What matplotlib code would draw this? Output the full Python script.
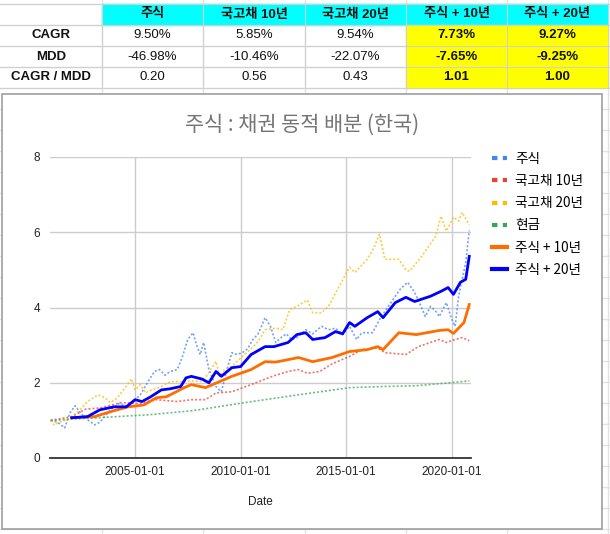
import matplotlib
matplotlib.use('Agg')
import matplotlib.pyplot as plt
import matplotlib.dates as mdates
from matplotlib.lines import Line2D
from matplotlib.patches import Rectangle
import pandas as pd

plt.rcParams['font.family'] = ['Liberation Sans', 'Noto Sans CJK KR', 'DejaVu Sans']

# ---- summary table on the sheet ----
table_cols = ['주식', '국고채 10년', '국고채 20년', '주식 + 10년', '주식 + 20년']
table_rows = ['CAGR', 'MDD', 'CAGR / MDD']
cagr = ['9.50%', '5.85%', '9.54%', '7.73%', '9.27%']
mdd = ['-46.98%', '-10.46%', '-22.07%', '-7.65%', '-9.25%']
ratio = ['0.20', '0.56', '0.43', '1.01', '1.00']

# ---- chart series ----
stock_dates = ['2001-01', '2001-05', '2001-09', '2001-12', '2002-03', '2002-06', '2002-09',
               '2003-02', '2003-05', '2003-11', '2004-04', '2004-09', '2005-04', '2005-08',
               '2005-12', '2006-03', '2006-06', '2006-09', '2007-01', '2007-04', '2007-07',
               '2007-10', '2007-12', '2008-02', '2008-04', '2008-07', '2008-11', '2009-02',
               '2009-05', '2009-08', '2009-11', '2010-02', '2010-05', '2010-08', '2010-11',
               '2011-03', '2011-06', '2011-09', '2011-12', '2012-03', '2012-06', '2012-09',
               '2013-02', '2013-06', '2013-11', '2014-03', '2014-07', '2014-11', '2015-03',
               '2015-07', '2015-10', '2016-04', '2016-09', '2017-02', '2017-05', '2017-08',
               '2017-12', '2018-04', '2018-07', '2018-10', '2019-01', '2019-04', '2019-06',
               '2019-10', '2020-01', '2020-03', '2020-05', '2020-09', '2020-11']
stock_vals = [1.00, 0.95, 0.80, 1.20, 1.39, 1.20, 1.05,
              0.88, 0.95, 1.28, 1.45, 1.36, 1.68, 2.00,
              2.30, 2.35, 2.20, 2.30, 2.35, 2.70, 3.15,
              3.33, 3.00, 2.75, 3.07, 2.35, 1.90, 1.76,
              2.30, 2.80, 2.75, 2.80, 2.90, 3.15, 3.30,
              3.73, 3.50, 3.07, 3.20, 3.30, 3.15, 3.20,
              3.41, 3.30, 3.50, 3.41, 3.45, 3.28, 3.50,
              3.15, 3.33, 3.33, 3.76, 4.10, 4.30, 4.50,
              4.67, 4.40, 4.10, 3.76, 4.03, 3.90, 3.76,
              4.13, 3.70, 3.50, 4.30, 5.20, 6.05]

kb10_dates = ['2001-01', '2002-01', '2002-09', '2003-05', '2004-05', '2005-03', '2006-01',
              '2007-01', '2007-09', '2008-05', '2008-11', '2009-08', '2010-07', '2011-07',
              '2012-04', '2012-10', '2013-03', '2013-10', '2014-05', '2015-03', '2015-10',
              '2016-07', '2016-11', '2017-11', '2018-06', '2019-06', '2019-10', '2020-03',
              '2020-07', '2020-11']
kb10_vals = [1.00, 1.10, 1.30, 1.33, 1.47, 1.45, 1.55,
             1.50, 1.55, 1.55, 1.73, 1.76, 1.95, 2.17,
             2.30, 2.35, 2.25, 2.30, 2.50, 2.70, 2.88,
             2.93, 2.80, 2.75, 2.96, 3.15, 3.07, 3.15,
             3.20, 3.12]

kb20_dates = ['2001-01', '2001-03', '2001-06', '2001-09', '2002-01', '2002-06', '2002-10',
              '2003-04', '2003-08', '2003-11', '2004-03', '2004-07', '2004-11', '2005-01',
              '2005-04', '2005-07', '2005-10', '2006-04', '2006-09', '2007-05', '2007-10',
              '2008-02', '2008-06', '2008-11', '2009-01', '2009-04', '2009-08', '2010-02',
              '2010-07', '2010-11', '2011-03', '2011-09', '2012-01', '2012-05', '2012-09',
              '2013-03', '2013-06', '2013-11', '2014-03', '2014-09', '2015-03', '2015-06',
              '2016-01', '2016-05', '2016-08', '2016-11', '2017-07', '2017-11', '2018-01',
              '2018-08', '2019-04', '2019-07', '2019-10', '2020-02', '2020-05', '2020-07',
              '2020-11']
kb20_vals = [1.00, 0.88, 0.95, 1.00, 1.10, 1.30, 1.50,
             1.68, 1.60, 1.47, 1.60, 1.85, 2.10, 1.81,
             1.95, 1.73, 1.80, 1.90, 2.03, 2.03, 2.05,
             2.03, 2.20, 2.57, 2.17, 2.35, 2.43, 2.70,
             2.90, 3.10, 3.41, 3.45, 3.41, 3.95, 4.03,
             4.20, 3.86, 3.86, 4.03, 4.56, 5.07, 4.93,
             5.28, 5.60, 5.95, 5.28, 5.28, 5.00, 4.96,
             5.36, 5.90, 6.43, 6.03, 6.40, 6.30, 6.53,
             6.20]

cash_dates = ['2001-01', '2003-04', '2005-09', '2007-08', '2008-01', '2010-06', '2012-10',
              '2015-03', '2016-10', '2018-05', '2019-12', '2020-11']
cash_vals = [1.00, 1.07, 1.15, 1.25, 1.28, 1.49, 1.68,
             1.87, 1.90, 1.92, 2.00, 2.05]

mix10_dates = ['2002-01', '2003-02', '2003-11', '2004-09', '2005-06', '2006-01', '2006-07',
               '2007-05', '2007-09', '2008-05', '2009-01', '2009-08', '2010-07', '2011-03',
               '2011-09', '2012-10', '2013-06', '2014-05', '2015-03', '2016-01', '2016-07',
               '2016-10', '2017-07', '2018-05', '2019-06', '2019-11', '2020-02', '2020-08',
               '2020-11']
mix10_vals = [1.07, 1.10, 1.23, 1.36, 1.41, 1.60, 1.63,
              1.87, 1.95, 1.87, 2.03, 2.17, 2.35, 2.56,
              2.55, 2.67, 2.56, 2.67, 2.83, 2.88, 2.96,
              2.88, 3.33, 3.28, 3.39, 3.41, 3.31, 3.60,
              4.08]

mix20_dates = ['2002-01', '2002-10', '2003-05', '2004-01', '2004-08', '2005-01', '2005-05',
               '2005-10', '2006-04', '2006-09', '2007-03', '2007-06', '2007-09', '2008-03',
               '2008-07', '2008-11', '2009-02', '2009-08', '2010-01', '2010-07', '2011-03',
               '2011-08', '2012-04', '2012-09', '2013-02', '2013-06', '2014-01', '2014-07',
               '2014-11', '2015-03', '2015-06', '2016-01', '2016-07', '2016-10', '2017-05',
               '2017-11', '2018-04', '2019-01', '2019-07', '2019-11', '2020-02', '2020-06',
               '2020-09', '2020-11']
mix20_vals = [1.07, 1.10, 1.28, 1.36, 1.36, 1.55, 1.50,
              1.63, 1.81, 1.84, 1.90, 2.13, 2.17, 2.10,
              2.00, 2.30, 2.17, 2.40, 2.43, 2.75, 2.96,
              2.96, 3.07, 3.28, 3.33, 3.15, 3.20, 3.36,
              3.30, 3.60, 3.50, 3.73, 3.89, 3.73, 4.13,
              4.27, 4.16, 4.30, 4.43, 4.53, 4.35, 4.67,
              4.75, 5.36]

series = [
    ('주식', stock_dates, stock_vals, '#4285f4', True),
    ('국고채 10년', kb10_dates, kb10_vals, '#ea4335', True),
    ('국고채 20년', kb20_dates, kb20_vals, '#fbbc04', True),
    ('현금', cash_dates, cash_vals, '#34a853', True),
    ('주식 + 10년', mix10_dates, mix10_vals, '#ff6d01', False),
    ('주식 + 20년', mix20_dates, mix20_vals, '#0000ff', False),
]

W, H = 610, 534
fig = plt.figure(figsize=(W / 100, H / 100), dpi=100)

# background: spreadsheet cells
bg = fig.add_axes([0, 0, 1, 1], zorder=0)
bg.set_xlim(0, W)
bg.set_ylim(H, 0)
bg.axis('off')
col_x = [0, 102, 203, 305, 406, 507, 608]
row_y = [4, 25, 46, 67, 88]
grid_c = '#e2e2e2'
for yy in range(4, H, 21):
    bg.plot([0, W], [yy, yy], color=grid_c, lw=1)
for xx in col_x[1:]:
    bg.plot([xx, xx], [0, H], color=grid_c, lw=1)
bg.add_patch(Rectangle((col_x[1], row_y[0]), col_x[-1] - col_x[1], 21, color='#00ffff', zorder=2))
bg.add_patch(Rectangle((col_x[4], row_y[1]), col_x[-1] - col_x[4], 63, color='#ffff00', zorder=2))
for xx in col_x[1:]:
    bg.plot([xx, xx], [row_y[0], row_y[-1]], color='#d0d0d0', lw=0.8, zorder=3)
for yy in row_y:
    bg.plot([0, W], [yy, yy], color='#d0d0d0', lw=0.8, zorder=3)

for j, name in enumerate(table_cols):
    cx = (col_x[j + 1] + col_x[j + 2]) / 2
    bg.text(cx, 14.5, name, ha='center', va='center', fontsize=9.5, fontweight='bold', color='#111', zorder=4)
for i, (label, vals) in enumerate(zip(table_rows, [cagr, mdd, ratio])):
    cy = row_y[i + 1] + 10.5
    bg.text(51, cy, label, ha='center', va='center', fontsize=9.5, fontweight='bold', color='#111', zorder=4)
    for j, v in enumerate(vals):
        cx = (col_x[j + 1] + col_x[j + 2]) / 2
        bg.text(cx, cy, v, ha='center', va='center', fontsize=9.5,
                fontweight='bold' if j >= 3 else 'normal', color='#111', zorder=4)

# chart box
bg.add_patch(Rectangle((2, 94), 600, 435, facecolor='white', edgecolor='#9e9e9e', lw=1.2, zorder=5))
bg.text(302, 125, '주식 : 채권 동적 배분 (한국)', ha='center', va='center', fontsize=15,
        color='#757575', family=['Noto Sans CJK KR', 'DejaVu Sans'], zorder=6)

# plot area
ax = fig.add_axes([50 / W, 1 - 458 / H, 421 / W, 301 / H], zorder=10)
ax.patch.set_alpha(0)
for name, d, v, c, dotted in series:
    dt = pd.to_datetime(d)
    if dotted:
        ax.plot(dt, v, color=c, lw=1.2, ls=(0, (1.2, 1.2)), alpha=0.75)
    else:
        ax.plot(dt, v, color=c, lw=2.0, solid_joinstyle='round')

ax.set_ylim(0, 8)
ax.set_yticks([0, 2, 4, 6, 8])
ax.set_xlim(pd.Timestamp('2000-12-20'), pd.Timestamp('2020-12-01'))
ax.xaxis.set_major_locator(mdates.YearLocator(5))
ax.xaxis.set_major_formatter(mdates.DateFormatter('%Y-%m-%d'))
ax.grid(True, color='#cccccc', lw=1)
ax.set_axisbelow(True)
for s in ['top', 'right', 'left']:
    ax.spines[s].set_visible(False)
ax.spines['bottom'].set_color('#333333')
ax.spines['bottom'].set_linewidth(1.3)
ax.tick_params(length=0, labelsize=8.5, colors='#222222')
ax.tick_params(axis='y', pad=7)
ax.tick_params(axis='x', pad=6)
ax.set_xlabel('Date', fontsize=8.5, color='#222222', labelpad=13)

handles = []
for name, d, v, c, dotted in series:
    if dotted:
        handles.append(Line2D([], [], color=c, lw=3, ls=(0, (1.3, 1.3))))
    else:
        handles.append(Line2D([], [], color=c, lw=3))
fig.legend(handles, [s[0] for s in series], loc='upper left',
           bbox_to_anchor=(492 / W, 1 - 152 / H), frameon=False,
           handlelength=1.1, handletextpad=0.6, labelspacing=0.6,
           borderaxespad=0, borderpad=0,
           prop={'family': ['Noto Sans CJK KR', 'DejaVu Sans'], 'size': 9.8})

fig.savefig('out.png', dpi=100)
